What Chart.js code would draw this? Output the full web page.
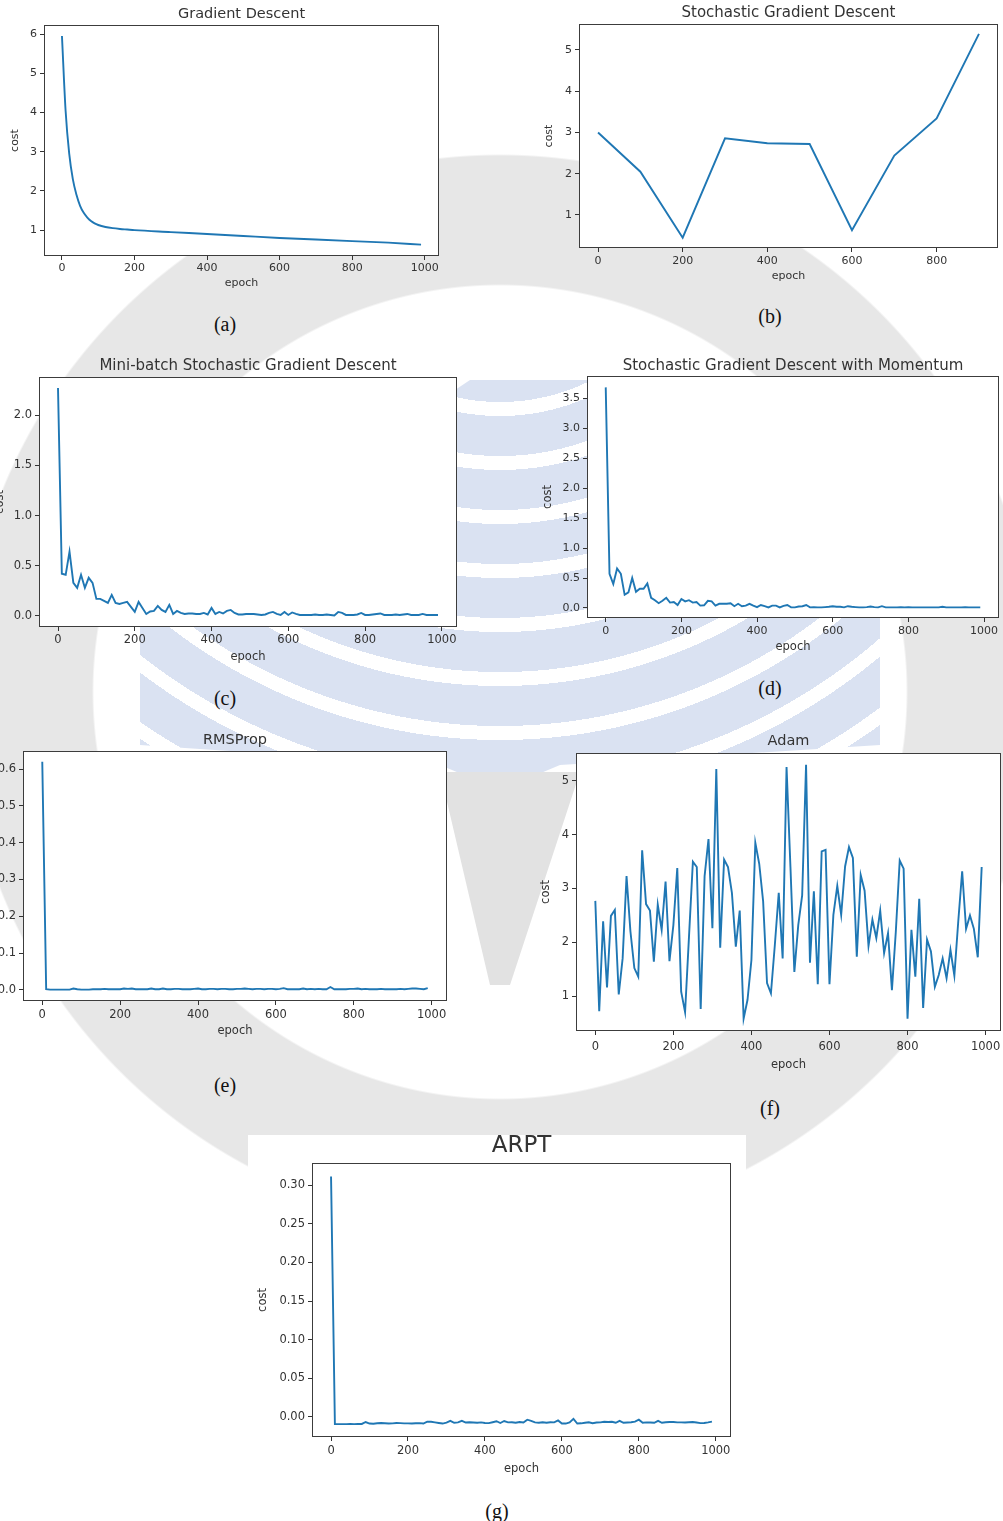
<!DOCTYPE html>
<html lang="en">
<head>
<meta charset="UTF-8">
<title>Cost per epoch for seven optimizers</title>
<script src="https://cdn.jsdelivr.net/npm/chart.js"></script>
<style>
  html, body { margin: 0; padding: 0; }
  body {
    width: 1003px; height: 1521px; position: relative; overflow: hidden;
    background: #fff radial-gradient(circle at 500px 692px, rgba(231,231,231,0) 406px, #e7e7e7 408px, #e7e7e7 536px, rgba(231,231,231,0) 538px);
  }
  canvas { position: absolute; }
  /* faint emblem of the page watermark */
  .wm { position: absolute; left: 0; top: 0; width: 1003px; height: 1521px; }
  #fan {
    background: repeating-radial-gradient(circle at 500px 200px, #dae2f2 0 40px, #fff 40px 54px);
    clip-path: polygon(140px 600px, 470px 380px, 600px 380px, 880px 600px, 880px 745px, 560px 765px, 500px 790px, 440px 765px, 140px 745px);
  }
  #nib {
    background: #e2e2e2;
    clip-path: polygon(440px 772px, 580px 772px, 510px 985px, 490px 985px);
  }
  .cap {
    position: absolute; font-family: "Liberation Serif", serif; font-size: 20px;
    line-height: 1; transform: translate(-50%, -50%); color: #111;
  }
  #gback { position: absolute; left: 248px; top: 1135px; width: 498px; height: 386px; background: #fff; }
</style>
</head>
<body>
<div class="wm" id="fan"></div>
<div class="wm" id="nib"></div>
<div id="gback"></div>
<div class="cap" style="left:225px;top:324px">(a)</div>
<div class="cap" style="left:770px;top:316px">(b)</div>
<div class="cap" style="left:225px;top:698px">(c)</div>
<div class="cap" style="left:770px;top:688px">(d)</div>
<div class="cap" style="left:225px;top:1085px">(e)</div>
<div class="cap" style="left:770px;top:1108px">(f)</div>
<div class="cap" style="left:497px;top:1511px">(g)</div>

<script>
// ---- data ----
const gdEpochs = [0, 10, 20, 30, 40, 50, 60, 70, 80, 90, 100, 120, 140, 160, 180, 200, 300, 400, 500, 600, 700, 800, 900, 990];
const gdCost = [5.95, 4.05, 2.95, 2.3, 1.9, 1.62, 1.44, 1.32, 1.23, 1.17, 1.13, 1.08, 1.05, 1.03, 1.015, 1.0, 0.95, 0.9, 0.85, 0.8, 0.76, 0.72, 0.68, 0.63];

const sgdEpochs = [0, 100, 200, 300, 400, 500, 600, 700, 800, 900];
const sgdCost = [3.0, 2.05, 0.45, 2.86, 2.74, 2.72, 0.63, 2.44, 3.34, 5.39];

const epochs = [0, 10, 20, 30, 40, 50, 60, 70, 80, 90, 100, 110, 120, 130, 140, 150, 160, 170, 180, 190,
  200, 210, 220, 230, 240, 250, 260, 270, 280, 290, 300, 310, 320, 330, 340, 350, 360, 370, 380, 390,
  400, 410, 420, 430, 440, 450, 460, 470, 480, 490, 500, 510, 520, 530, 540, 550, 560, 570, 580, 590,
  600, 610, 620, 630, 640, 650, 660, 670, 680, 690, 700, 710, 720, 730, 740, 750, 760, 770, 780, 790,
  800, 810, 820, 830, 840, 850, 860, 870, 880, 890, 900, 910, 920, 930, 940, 950, 960, 970, 980, 990];

const miniBatchCost = [2.27, 0.42, 0.41, 0.64, 0.33, 0.28, 0.41, 0.28, 0.38, 0.33,
  0.17, 0.17, 0.15, 0.13, 0.21, 0.13, 0.12, 0.13, 0.14, 0.09,
  0.04, 0.14, 0.08, 0.02, 0.045, 0.05, 0.10, 0.06, 0.04, 0.11,
  0.02, 0.05, 0.03, 0.02, 0.025, 0.025, 0.02, 0.02, 0.03, 0.015,
  0.08, 0.02, 0.04, 0.025, 0.05, 0.06, 0.03, 0.015, 0.015, 0.02,
  0.02, 0.02, 0.015, 0.01, 0.015, 0.03, 0.04, 0.02, 0.01, 0.04,
  0.01, 0.035, 0.02, 0.01, 0.01, 0.01, 0.01, 0.015, 0.01, 0.01,
  0.015, 0.01, 0.005, 0.04, 0.03, 0.01, 0.01, 0.01, 0.015, 0.03,
  0.01, 0.01, 0.015, 0.02, 0.025, 0.01, 0.01, 0.01, 0.015, 0.01,
  0.015, 0.02, 0.01, 0.01, 0.01, 0.02, 0.01, 0.01, 0.01, 0.01];

const momentumCost = [3.68, 0.57, 0.40, 0.66, 0.57, 0.22, 0.26, 0.50, 0.27, 0.32,
  0.32, 0.41, 0.17, 0.13, 0.08, 0.12, 0.17, 0.09, 0.10, 0.05,
  0.15, 0.11, 0.13, 0.09, 0.10, 0.04, 0.045, 0.12, 0.11, 0.04,
  0.07, 0.07, 0.07, 0.08, 0.03, 0.07, 0.03, 0.04, 0.07, 0.04,
  0.015, 0.05, 0.03, 0.01, 0.04, 0.04, 0.01, 0.035, 0.05, 0.01,
  0.01, 0.025, 0.03, 0.05, 0.01, 0.015, 0.01, 0.01, 0.015, 0.02,
  0.03, 0.02, 0.02, 0.01, 0.03, 0.02, 0.015, 0.01, 0.01, 0.015,
  0.025, 0.015, 0.01, 0.03, 0.01, 0.01, 0.01, 0.01, 0.015, 0.01,
  0.015, 0.01, 0.01, 0.01, 0.01, 0.01, 0.01, 0.01, 0.01, 0.02,
  0.01, 0.01, 0.01, 0.01, 0.01, 0.015, 0.01, 0.01, 0.01, 0.01];

const rmspropCost = [0.62, 0.002, 0.001, 0.001, 0.001, 0.001, 0.001, 0.001, 0.004, 0.002,
  0.001, 0.001, 0.001, 0.002, 0.002, 0.002, 0.003, 0.002, 0.002, 0.002,
  0.002, 0.004, 0.003, 0.004, 0.002, 0.002, 0.002, 0.002, 0.004, 0.002,
  0.002, 0.004, 0.002, 0.002, 0.003, 0.003, 0.002, 0.002, 0.002, 0.003,
  0.004, 0.002, 0.002, 0.003, 0.003, 0.002, 0.003, 0.003, 0.002, 0.002,
  0.003, 0.003, 0.004, 0.003, 0.002, 0.003, 0.003, 0.002, 0.003, 0.003,
  0.002, 0.003, 0.005, 0.002, 0.002, 0.002, 0.002, 0.004, 0.002, 0.003,
  0.002, 0.003, 0.002, 0.002, 0.008, 0.002, 0.002, 0.002, 0.002, 0.003,
  0.003, 0.004, 0.002, 0.003, 0.002, 0.002, 0.002, 0.003, 0.002, 0.002,
  0.002, 0.002, 0.003, 0.002, 0.003, 0.004, 0.004, 0.003, 0.002, 0.005];

const adamCost = [2.77, 0.72, 2.39, 1.16, 2.49, 2.6, 1.03, 1.7, 3.23, 2.2,
  1.52, 1.36, 3.71, 2.71, 2.59, 1.64, 2.7, 2.23, 3.13, 1.65,
  2.32, 3.38, 1.08, 0.7, 2.1, 3.5, 3.4, 0.76, 3.23, 3.92,
  2.26, 5.22, 1.9, 3.54, 3.4, 2.92, 1.92, 2.59, 0.58, 0.93,
  1.67, 3.85, 3.46, 2.76, 1.24, 1.05, 1.95, 2.92, 1.7, 5.26,
  3.4, 1.45, 2.32, 2.87, 5.3, 1.62, 2.95, 1.22, 3.69, 3.72,
  1.22, 2.51, 3.05, 2.51, 3.41, 3.77, 3.57, 1.73, 3.25, 2.96,
  1.93, 2.42, 2.08, 2.59, 1.8, 2.17, 1.11, 2.2, 3.52, 3.37,
  0.58, 2.23, 1.36, 2.81, 0.78, 2.05, 1.83, 1.17, 1.39, 1.7,
  1.33, 1.86, 1.38, 2.39, 3.32, 2.25, 2.5, 2.25, 1.72, 3.4];

const arptCost = [0.311, -0.0093, -0.0093, -0.0092, -0.0092, -0.0091, -0.0092, -0.0091, -0.0090, -0.0065,
  -0.0085, -0.0088, -0.0082, -0.0078, -0.0082, -0.0085, -0.0083, -0.0078, -0.0080, -0.0083,
  -0.0083, -0.0085, -0.0082, -0.0080, -0.0085, -0.0060, -0.0062, -0.0070, -0.0078, -0.0085,
  -0.0072, -0.0050, -0.0075, -0.0070, -0.0050, -0.0072, -0.0068, -0.0072, -0.0075, -0.0070,
  -0.0078, -0.0080, -0.0068, -0.0055, -0.0078, -0.0052, -0.0070, -0.0068, -0.0075, -0.0065,
  -0.0072, -0.0035, -0.0050, -0.0070, -0.0075, -0.0068, -0.0075, -0.0068, -0.0070, -0.0045,
  -0.0085, -0.0085, -0.0070, -0.0025, -0.0085, -0.0082, -0.0075, -0.0068, -0.0080, -0.0072,
  -0.0070, -0.0062, -0.0065, -0.0062, -0.0075, -0.0050, -0.0075, -0.0072, -0.0068, -0.0060,
  -0.0035, -0.0075, -0.0070, -0.0072, -0.0075, -0.0050, -0.0075, -0.0068, -0.0065, -0.0065,
  -0.0070, -0.0070, -0.0072, -0.0068, -0.0065, -0.0072, -0.0080, -0.0078, -0.0070, -0.0060];

// tick values shown on the axes
const epochTicks = [0, 200, 400, 600, 800, 1000];
const sgdEpochTicks = [0, 200, 400, 600, 800];
const gdCostTicks = [1, 2, 3, 4, 5, 6];
const sgdCostTicks = [1, 2, 3, 4, 5];
const miniBatchCostTicks = [0.0, 0.5, 1.0, 1.5, 2.0];
const momentumCostTicks = [0.0, 0.5, 1.0, 1.5, 2.0, 2.5, 3.0, 3.5];
const rmspropCostTicks = [0.0, 0.1, 0.2, 0.3, 0.4, 0.5, 0.6];
const adamCostTicks = [1, 2, 3, 4, 5];
const arptCostTicks = [0.00, 0.05, 0.10, 0.15, 0.20, 0.25, 0.30];

// ---- drawing ----
const INK = '#333';
const BLUE = '#1f77b4';
const FONT = 'DejaVu Sans';
Chart.defaults.font.family = FONT;
Chart.defaults.color = INK;

// white axes face + full box like matplotlib spines
const framePlugin = {
  id: 'frame',
  beforeDraw(chart) {
    const a = chart.chartArea, c = chart.ctx;
    c.save();
    c.fillStyle = '#fff';
    c.fillRect(a.left, a.top, a.right - a.left, a.bottom - a.top);
    c.restore();
  },
  afterDraw(chart) {
    const a = chart.chartArea, c = chart.ctx;
    const l = Math.round(a.left) + 0.5, t = Math.round(a.top) + 0.5;
    const r = Math.round(a.right) - 0.5, b = Math.round(a.bottom) - 0.5;
    c.save();
    c.strokeStyle = '#3c3c3c';
    c.lineWidth = 1;
    c.strokeRect(l, t, r - l, b - t);
    c.restore();
  }
};

function panel(cfg) {
  const [L, T, R, B] = cfg.box;
  // same margin left and right so the title centres over the axes box
  const AXW = 60, AXH = 46;
  const tlh = cfg.titleSize * 1.2;
  const top = Math.round(cfg.titleY - tlh / 2 - 2);
  const left = L - AXW;
  const width = R - L + 2 * AXW;
  const height = B - top + AXH;
  const tickLh = cfg.tickSize * 1.2;
  const labLh = cfg.labelSize * 1.2;
  const tPadTop = cfg.titleY - tlh / 2 - top;

  const canvas = document.createElement('canvas');
  canvas.width = width;
  canvas.height = height;
  canvas.style.left = left + 'px';
  canvas.style.top = top + 'px';
  canvas.style.width = width + 'px';
  canvas.style.height = height + 'px';
  document.body.appendChild(canvas);

  const tickFont = { family: FONT, size: cfg.tickSize };
  const labFont = { family: FONT, size: cfg.labelSize };
  const gridOpts = { drawOnChartArea: false, drawTicks: true, tickLength: 4, color: INK, lineWidth: 1 };

  new Chart(canvas, {
    type: 'line',
    data: {
      datasets: [{
        data: cfg.x.map((e, i) => ({ x: e, y: cfg.y[i] })),
        borderColor: BLUE,
        borderWidth: 1.9,
        pointRadius: 0,
        fill: false,
        tension: 0,
        cubicInterpolationMode: cfg.smooth ? 'monotone' : 'default'
      }]
    },
    options: {
      responsive: false,
      animation: false,
      events: [],
      layout: { padding: 0 },
      plugins: {
        legend: { display: false },
        tooltip: { enabled: false },
        title: {
          display: true,
          text: cfg.title,
          color: INK,
          font: { family: FONT, size: cfg.titleSize, weight: 'normal', lineHeight: 1.2 },
          padding: { top: tPadTop, bottom: T - top - tlh - tPadTop }
        }
      },
      scales: {
        x: {
          type: 'linear',
          min: cfg.xRange[0],
          max: cfg.xRange[1],
          afterFit(s) { s.height = AXH; },
          afterBuildTicks(s) { s.ticks = cfg.xTicks.map(v => ({ value: v })); },
          grid: gridOpts,
          border: { display: false },
          ticks: {
            autoSkip: false, maxRotation: 0,
            padding: cfg.xTickY - B - 4 - tickLh / 2,
            color: INK, font: tickFont,
            callback: (v) => String(v)
          },
          title: {
            display: true, text: 'epoch', color: INK, font: labFont,
            padding: { top: 0, bottom: (top + height) - cfg.epochY - labLh / 2 }
          }
        },
        y: {
          type: 'linear',
          min: cfg.yRange[0],
          max: cfg.yRange[1],
          afterFit(s) { s.width = AXW; },
          afterBuildTicks(s) { s.ticks = cfg.yTicks.map(v => ({ value: v })); },
          grid: gridOpts,
          border: { display: false },
          ticks: {
            autoSkip: false, padding: 3,
            color: INK, font: tickFont,
            callback: (v) => v.toFixed(cfg.yDigits)
          },
          title: {
            display: true, text: 'cost', color: INK, font: labFont,
            padding: { top: (cfg.costX - left) - labLh / 2, bottom: 0 }
          }
        },
        // empty right-hand spacer, same width as the left axis
        spacer: {
          type: 'linear',
          position: 'right',
          afterFit(s) { s.width = AXW; },
          grid: { display: false },
          border: { display: false },
          ticks: { display: false }
        }
      }
    },
    plugins: [framePlugin]
  });
}

panel({ title: 'Gradient Descent', x: gdEpochs, y: gdCost, smooth: true,
  xTicks: epochTicks, yTicks: gdCostTicks, yDigits: 0,
  box: [44, 25, 439, 256], titleY: 14, titleSize: 14.5, tickSize: 11, labelSize: 11,
  costX: 15, epochY: 283, xTickY: 268, xRange: [-49.5, 1039.5], yRange: [0.34, 6.23] });

panel({ title: 'Stochastic Gradient Descent', x: sgdEpochs, y: sgdCost,
  xTicks: sgdEpochTicks, yTicks: sgdCostTicks, yDigits: 0,
  box: [579, 24, 998, 248], titleY: 13, titleSize: 15, tickSize: 11, labelSize: 11,
  costX: 549, epochY: 276, xTickY: 261, xRange: [-45, 945], yRange: [0.2, 5.63] });

panel({ title: 'Mini-batch Stochastic Gradient Descent', x: epochs, y: miniBatchCost,
  xTicks: epochTicks, yTicks: miniBatchCostTicks, yDigits: 1,
  box: [39, 377, 457, 627], titleY: 366, titleSize: 15, tickSize: 11.5, labelSize: 11.5,
  costX: 0, epochY: 657, xTickY: 640, xRange: [-49.5, 1039.5], yRange: [-0.11, 2.38] });

panel({ title: 'Stochastic Gradient Descent with Momentum', x: epochs, y: momentumCost,
  xTicks: epochTicks, yTicks: momentumCostTicks, yDigits: 1,
  box: [587, 376, 999, 618], titleY: 366, titleSize: 15, tickSize: 11, labelSize: 11.5,
  costX: 548, epochY: 647, xTickY: 631, xRange: [-49.5, 1039.5], yRange: [-0.167, 3.87] });

panel({ title: 'RMSProp', x: epochs, y: rmspropCost,
  xTicks: epochTicks, yTicks: rmspropCostTicks, yDigits: 1,
  box: [23, 751, 447, 1001], titleY: 740, titleSize: 14.5, tickSize: 11.5, labelSize: 11.5,
  costX: -16, epochY: 1031, xTickY: 1015, xRange: [-49.5, 1039.5], yRange: [-0.03, 0.649] });

panel({ title: 'Adam', x: epochs, y: adamCost,
  xTicks: epochTicks, yTicks: adamCostTicks, yDigits: 0,
  box: [576, 753, 1001, 1031], titleY: 741, titleSize: 14.5, tickSize: 11.5, labelSize: 11.5,
  costX: 546, epochY: 1065, xTickY: 1047, xRange: [-49.5, 1039.5], yRange: [0.35, 5.52] });

panel({ title: 'ARPT', x: epochs, y: arptCost,
  xTicks: epochTicks, yTicks: arptCostTicks, yDigits: 2,
  box: [312, 1163, 731, 1437], titleY: 1146, titleSize: 23, tickSize: 11.5, labelSize: 11.5,
  costX: 263, epochY: 1469, xTickY: 1451, xRange: [-49.5, 1039.5], yRange: [-0.0259, 0.3286] });
</script>
</body>
</html>
